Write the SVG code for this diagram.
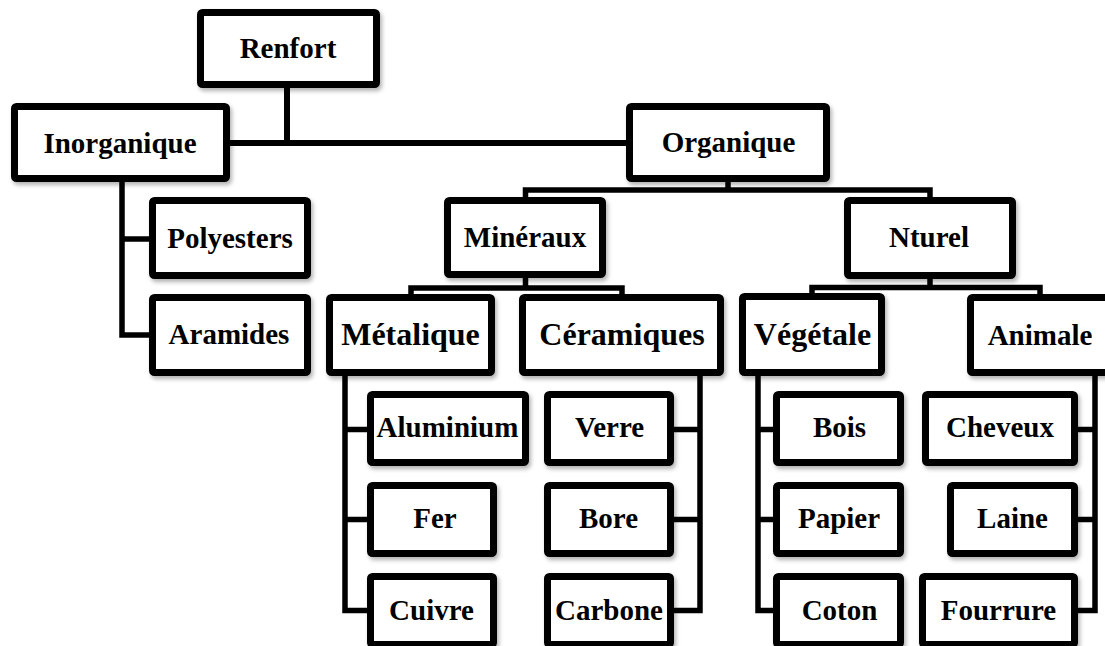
<svg xmlns="http://www.w3.org/2000/svg" width="1105" height="646" viewBox="0 0 1105 646">
<defs>
<filter id="sh" x="-10%" y="-10%" width="130%" height="140%">
<feDropShadow dx="2" dy="3" stdDeviation="2" flood-color="#000" flood-opacity="0.3"/>
</filter>
<style>
.box{fill:#fff;stroke:#000;stroke-width:7;filter:url(#sh)}
.t{font-family:"Liberation Serif","Times New Roman",serif;font-weight:bold;font-size:29px;fill:#000;text-anchor:middle}
.big{font-size:32px}
.c{fill:none;stroke:#000;stroke-width:5.5;stroke-linejoin:miter;stroke-linecap:butt}
</style>
</defs>
<rect width="1105" height="646" fill="#fff"/>
<g id="connectors">
<path class="c" style="stroke-width:6" d="M287,88 V143 M230,143 H626"/>
<path class="c" d="M122,182 V335 H149 M122,239 H149"/>
<path class="c" d="M728,182 V190 M525.5,197 V190 H930 V197"/>
<path class="c" d="M525.5,278 V288 M411,294 V288 H622 V294"/>
<path class="c" d="M930,279 V287.5 M812,293 V287.5 H1040 V294"/>
<path class="c" d="M345,376 V610.5 H367 M345,429.5 H367 M345,519.5 H367"/>
<path class="c" d="M700,376 V610.5 H674 M700,429.5 H674 M700,519.5 H674"/>
<path class="c" d="M758,376 V610.5 H773 M758,429.5 H773 M758,519.5 H773"/>
<path class="c" d="M1095,376 V610.5 H1078 M1095,429.5 H1078 M1095,519.5 H1078"/>
</g>
<g id="renfort"><rect class="box" x="200.5" y="12.5" width="176" height="72" rx="2"/><text class="t" x="288" y="58">Renfort</text></g>
<g id="inorganique"><rect class="box" x="14.5" y="106.5" width="212" height="72" rx="2"/><text class="t" x="120" y="153">Inorganique</text></g>
<g id="organique"><rect class="box" x="629.5" y="106.5" width="197" height="72" rx="2"/><text class="t" x="728.5" y="152">Organique</text></g>
<g id="polyesters"><rect class="box" x="152.5" y="200.5" width="155" height="75" rx="2"/><text class="t" x="230" y="248">Polyesters</text></g>
<g id="aramides"><rect class="box" x="152.5" y="297.5" width="155" height="75" rx="2"/><text class="t" x="229" y="344">Aramides</text></g>
<g id="mineraux"><rect class="box" x="447.5" y="200.5" width="155" height="74" rx="2"/><text class="t" x="525" y="247">Minéraux</text></g>
<g id="nturel"><rect class="box" x="847.5" y="200.5" width="165" height="75" rx="2"/><text class="t" x="929" y="247">Nturel</text></g>
<g id="metalique"><rect class="box" x="329.5" y="297.5" width="162" height="75" rx="2"/><text class="t big" x="410.5" y="345">Métalique</text></g>
<g id="ceramiques"><rect class="box" x="522.5" y="297.5" width="198" height="75" rx="2"/><text class="t big" x="622" y="345">Céramiques</text></g>
<g id="vegetale"><rect class="box" x="742.5" y="296.5" width="139" height="76" rx="2"/><text class="t big" x="812.5" y="345">Végétale</text></g>
<g id="animale"><rect class="box" x="970.5" y="297.5" width="141" height="75" rx="2"/><text class="t" x="1040" y="345">Animale</text></g>
<g id="aluminium"><rect class="box" x="370.5" y="394.5" width="155" height="68" rx="2"/><text class="t" x="447.5" y="437">Aluminium</text></g>
<g id="fer"><rect class="box" x="370.5" y="485.5" width="123" height="68" rx="2"/><text class="t" x="435" y="528">Fer</text></g>
<g id="cuivre"><rect class="box" x="370.5" y="576.5" width="123" height="68" rx="2"/><text class="t" x="431.5" y="620">Cuivre</text></g>
<g id="verre"><rect class="box" x="547.5" y="394.5" width="123" height="68" rx="2"/><text class="t" x="609.5" y="437">Verre</text></g>
<g id="bore"><rect class="box" x="547.5" y="485.5" width="123" height="68" rx="2"/><text class="t" x="608.5" y="528">Bore</text></g>
<g id="carbone"><rect class="box" x="547.5" y="576.5" width="123" height="68" rx="2"/><text class="t" x="609" y="620">Carbone</text></g>
<g id="bois"><rect class="box" x="776.5" y="394.5" width="124" height="68" rx="2"/><text class="t" x="839.5" y="437">Bois</text></g>
<g id="papier"><rect class="box" x="776.5" y="485.5" width="124" height="68" rx="2"/><text class="t" x="839" y="528">Papier</text></g>
<g id="coton"><rect class="box" x="776.5" y="576.5" width="124" height="68" rx="2"/><text class="t" x="839.5" y="620">Coton</text></g>
<g id="cheveux"><rect class="box" x="925.5" y="394.5" width="149" height="68" rx="2"/><text class="t" x="1000" y="437">Cheveux</text></g>
<g id="laine"><rect class="box" x="950.5" y="485.5" width="124" height="68" rx="2"/><text class="t" x="1012.5" y="528">Laine</text></g>
<g id="fourrure"><rect class="box" x="922.5" y="576.5" width="152" height="68" rx="2"/><text class="t" x="998.5" y="620">Fourrure</text></g>
</svg>
